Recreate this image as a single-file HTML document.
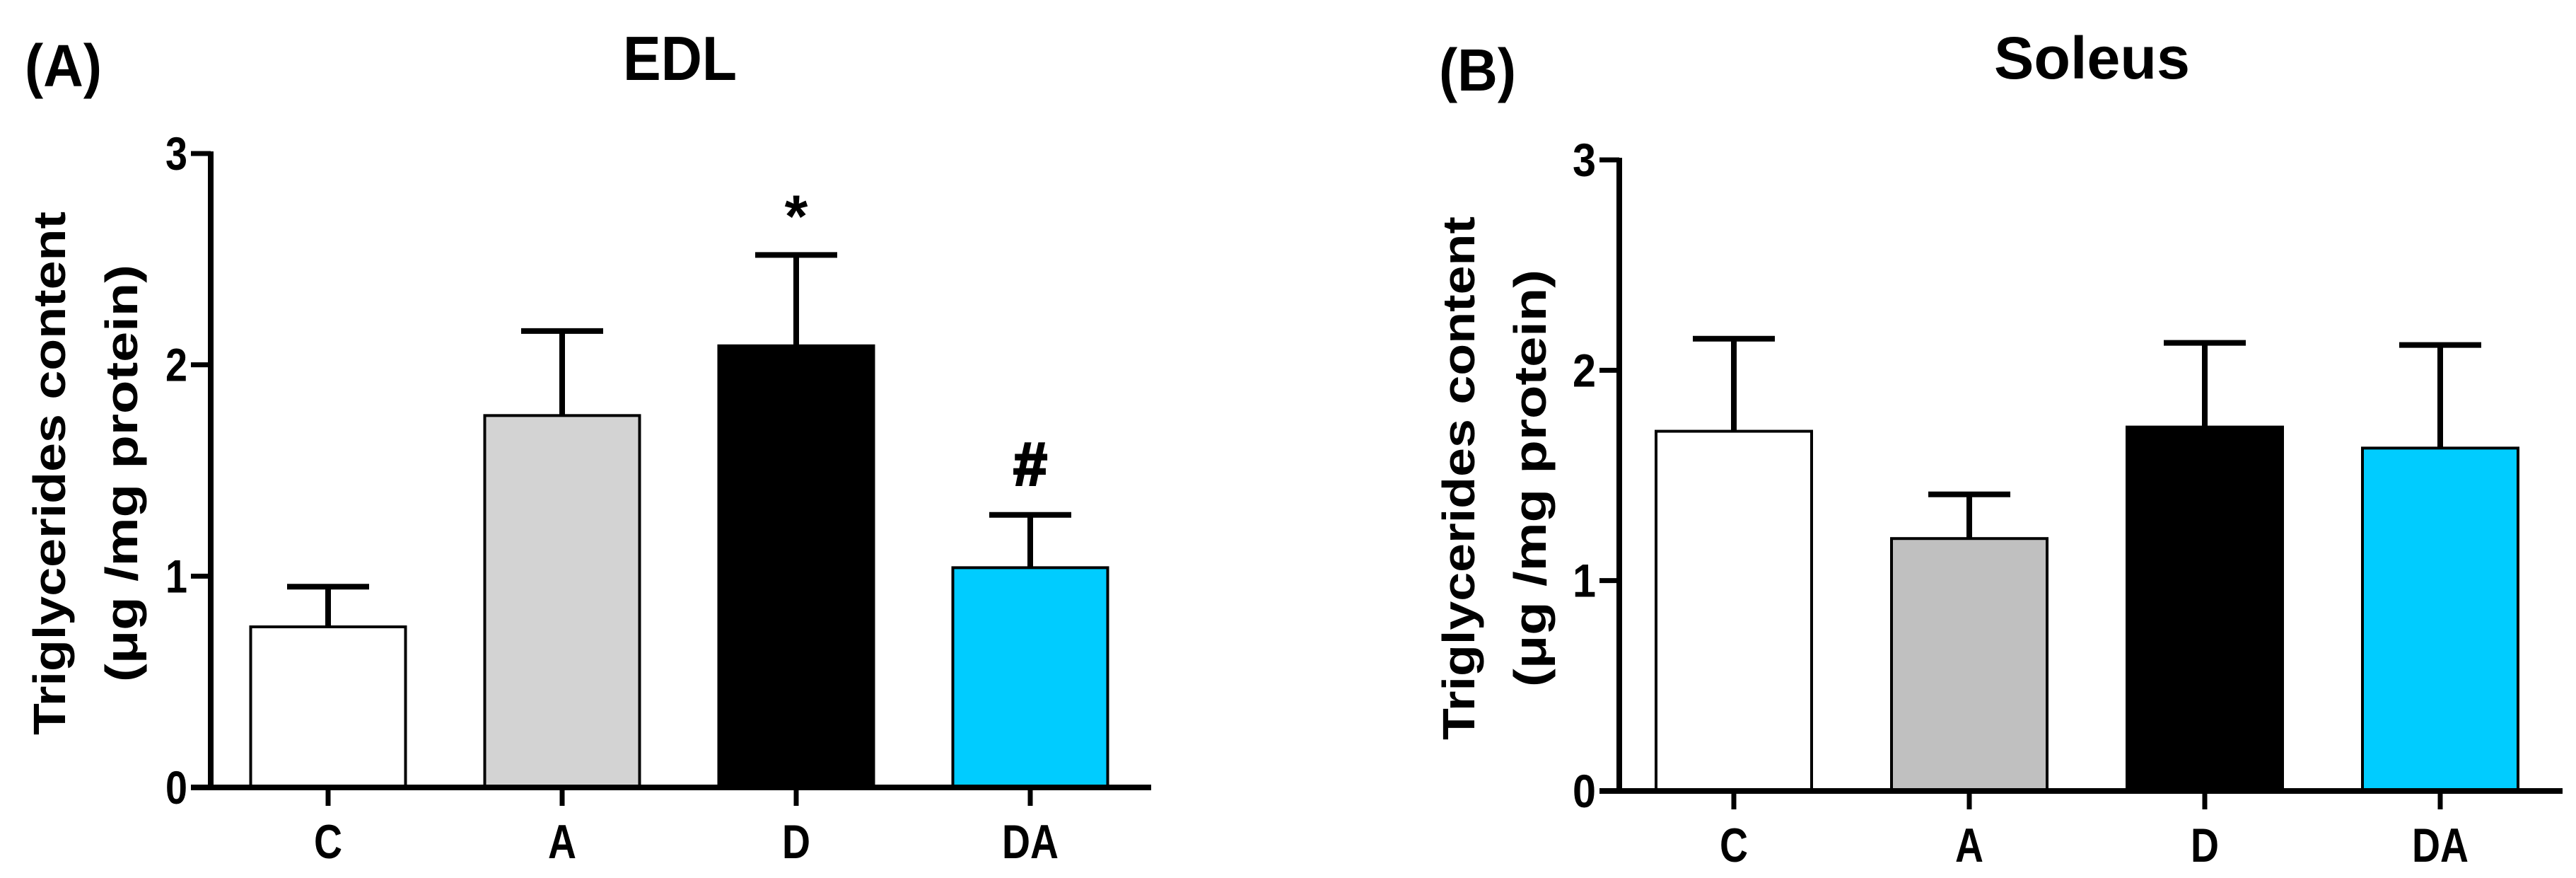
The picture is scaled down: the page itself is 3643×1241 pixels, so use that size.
<!DOCTYPE html>
<html><head><meta charset="utf-8"><style>
html,body{margin:0;padding:0;background:#fff;}
svg{display:block;font-family:"Liberation Sans",Arial,sans-serif;font-weight:bold;}
</style></head><body>
<svg id="fig" width="3643" height="1241" viewBox="0 0 3643 1241" xmlns="http://www.w3.org/2000/svg">
<text x="35" y="122" font-size="84" textLength="109" lengthAdjust="spacingAndGlyphs">(A)</text>
<text x="881" y="113" font-size="88" textLength="161" lengthAdjust="spacingAndGlyphs">EDL</text>
<text x="2035" y="128" font-size="84" textLength="109" lengthAdjust="spacingAndGlyphs">(B)</text>
<text x="2820" y="111" font-size="84" textLength="277" lengthAdjust="spacingAndGlyphs">Soleus</text>
<g id="pa"></g>
<g id="pb"></g>
</svg>
<script>
const categories = ["C", "A", "D", "DA"];
const edlValues = [0.76, 1.76, 2.09, 1.04];
const edlErrors = [0.95, 2.16, 2.52, 1.29];
const edlMarks = ["", "", "*", "#"];
const soleusValues = [1.71, 1.20, 1.73, 1.63];
const soleusErrors = [2.15, 1.41, 2.13, 2.12];
const soleusMarks = ["", "", "", ""];
const yTicks = [0, 1, 2, 3];
const edlColors = ["#ffffff", "#d3d3d3", "#000000", "#00ccff"];
const soleusColors = ["#ffffff", "#c0c0c0", "#000000", "#00ccff"];

const NS = "http://www.w3.org/2000/svg";
function mk(parent, tag, attrs, text) {
  const e = document.createElementNS(NS, tag);
  for (const k in attrs) e.setAttribute(k, attrs[k]);
  if (text !== undefined) e.textContent = text;
  parent.appendChild(e);
  return e;
}

function drawPanel(gid, cfg, values, errors, marks, colors, prefix) {
  const g = document.getElementById(gid);
  const y = v => cfg.y0 - v * (cfg.y0 - cfg.y3) / 3;
  const x = i => cfg.x0 + i * cfg.step;
  const bw = cfg.bw;
  values.forEach((v, i) => {
    const r = mk(g, "rect", {x: x(i) - bw / 2, y: y(v), width: bw, height: cfg.y0 - y(v), fill: colors[i], stroke: "#000", "stroke-width": 4});
    
    
    const eb = mk(g, "path", {d: `M${x(i)},${y(v)}V${y(errors[i])}M${x(i) - 58},${y(errors[i])}H${x(i) + 58}`, stroke: "#000", "stroke-width": 8, fill: "none"});
    
    
    if (marks[i]) {
      const isStar = marks[i] === "*";
      const m = mk(g, "text", {x: x(i), y: y(errors[i]) - (isStar ? 26 : 42), "font-size": isStar ? 84 : 86, "text-anchor": "middle", stroke: isStar ? "none" : "#000", "stroke-width": 3}, marks[i]);
      
      
    }
    const t = mk(g, "text", {x: x(i), y: cfg.y0 + 100, "font-size": 68, "text-anchor": "middle", textLength: categories[i].length * cfg.lw, lengthAdjust: "spacingAndGlyphs"}, categories[i]);
    
    
    const tk = mk(g, "line", {x1: x(i), x2: x(i), y1: cfg.y0, y2: cfg.y0 + 26, stroke: "#000", "stroke-width": 7});
    
    
  });
  const ya = mk(g, "line", {x1: cfg.ax, x2: cfg.ax, y1: cfg.y3 - 3, y2: cfg.y0 + 3, stroke: "#000", "stroke-width": 8});
  
  
  const xa = mk(g, "line", {x1: cfg.ax - 28, x2: cfg.xend, y1: cfg.y0, y2: cfg.y0, stroke: "#000", "stroke-width": 8});
  
  
  yTicks.forEach(v => {
    const tk = mk(g, "line", {x1: cfg.ax - 28, x2: cfg.ax, y1: y(v), y2: y(v), stroke: "#000", "stroke-width": 7});
    
    
    const tl = mk(g, "text", {x: cfg.ax - 33, y: y(v) + 23, "font-size": 66, "text-anchor": "end", textLength: cfg.tw, lengthAdjust: "spacingAndGlyphs"}, String(v));
    
    
  });
  const cy = (cfg.y0 + cfg.y3) / 2 + 4;
  const l1 = mk(g, "text", {x: 0, y: 0, "font-size": 64, "text-anchor": "middle", transform: `translate(${cfg.l1x},${cy}) rotate(-90)`, textLength: 740, lengthAdjust: "spacingAndGlyphs"}, "Triglycerides content");
  
  
  const l2 = mk(g, "text", {x: 0, y: 0, "font-size": 64, "text-anchor": "middle", transform: `translate(${cfg.l2x},${cy}) rotate(-90)`, textLength: 590, lengthAdjust: "spacingAndGlyphs"}, "(\u03bcg /mg protein)");
  
  
}

drawPanel("pa", {ax: 298, y0: 1113, y3: 217, x0: 464, step: 331, bw: 219, xend: 1628, tw: 31, lw: 40, l1x: 92, l2x: 194}, edlValues, edlErrors, edlMarks, edlColors, "edl");
drawPanel("pb", {ax: 2290, y0: 1118, y3: 226, x0: 2452, step: 333, bw: 220, xend: 3624, tw: 33, lw: 40, l1x: 2085, l2x: 2186}, soleusValues, soleusErrors, soleusMarks, soleusColors, "soleus");
</script>
</body></html>
